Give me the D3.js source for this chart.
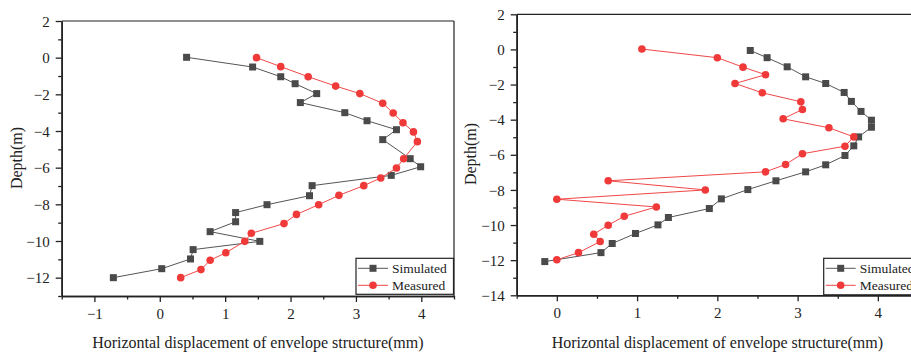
<!DOCTYPE html>
<html>
<head>
<meta charset="utf-8">
<script src="https://cdn.jsdelivr.net/npm/d3@7"></script>
<style>
  html, body { margin: 0; padding: 0; background: #fff; }
  svg { display: block; }
  text { font-family: "Liberation Serif", "Times New Roman", serif; fill: #222; }
</style>
</head>
<body>
<svg id="chart" width="911" height="355"></svg>
<script>
// ---------- Data ----------
const seriesNames = ["Simulated", "Measured"];

// Left chart
const leftSimX = [0.41, 1.42, 1.85, 2.07, 2.40, 2.15, 2.83, 3.17, 3.62, 3.41, 3.83, 3.99, 3.54, 2.33, 2.29, 1.64, 1.16, 1.16, 0.77, 1.53, 0.51, 0.47, 0.03, -0.71];
const leftSimY = [0.02, -0.51, -1.04, -1.42, -1.96, -2.45, -3.0, -3.44, -3.93, -4.47, -5.51, -5.95, -6.42, -6.98, -7.53, -8.02, -8.45, -8.95, -9.49, -10.02, -10.47, -10.98, -11.51, -12.0];
const leftMeaX = [1.48, 1.85, 2.27, 2.69, 3.06, 3.41, 3.57, 3.72, 3.88, 3.94, 3.73, 3.62, 3.38, 3.12, 2.74, 2.43, 2.09, 1.90, 1.40, 1.30, 1.01, 0.77, 0.63, 0.32];
const leftMeaY = [0.0, -0.49, -1.04, -1.55, -1.96, -2.49, -3.02, -3.55, -4.05, -4.58, -5.51, -6.02, -6.56, -6.98, -7.51, -8.02, -8.55, -9.05, -9.58, -10.02, -10.64, -11.05, -11.56, -12.0];

// Right chart
const rightSimX = [2.41, 2.62, 2.87, 3.10, 3.35, 3.58, 3.67, 3.79, 3.92, 3.92, 3.76, 3.70, 3.59, 3.35, 3.10, 2.73, 2.38, 2.05, 1.90, 1.39, 1.26, 0.98, 0.69, 0.55, -0.15];
const rightSimY = [-0.06, -0.47, -0.99, -1.56, -1.94, -2.45, -2.96, -3.53, -4.03, -4.43, -4.98, -5.49, -6.04, -6.57, -6.97, -7.48, -7.98, -8.51, -9.06, -9.57, -9.99, -10.48, -11.05, -11.57, -12.08];
const rightMeaX = [1.06, 2.00, 2.32, 2.60, 2.22, 2.56, 3.04, 3.06, 2.82, 3.39, 3.70, 3.59, 3.06, 2.85, 2.60, 0.64, 1.85, 0.00, 1.24, 0.84, 0.64, 0.46, 0.54, 0.27, 0.00];
const rightMeaY = [0.02, -0.47, -1.01, -1.44, -1.94, -2.47, -2.98, -3.42, -3.95, -4.46, -4.98, -5.51, -5.94, -6.55, -6.97, -7.48, -8.0, -8.53, -8.97, -9.50, -10.01, -10.52, -10.94, -11.57, -11.98];

// Axis ticks
const leftXTicks = [-1, 0, 1, 2, 3, 4];
const leftYTicks = [2, 0, -2, -4, -6, -8, -10, -12];
const rightXTicks = [0, 1, 2, 3, 4];
const rightYTicks = [2, 0, -2, -4, -6, -8, -10, -12, -14];

const xTitle = "Horizontal displacement of envelope structure(mm)";
const yTitle = "Depth(m)";

// ---------- Drawing ----------
const svg = d3.select("#chart");
const simColor = "#4a4a4a", simLine = "#555555";
const meaColor = "#f03a3a", meaLine = "#f04848";

function zip(xs, ys) { return xs.map((x, i) => ({ x, y: ys[i] })); }

function drawPanel(cfg) {
  const g = svg.append("g");
  const x = d3.scaleLinear().domain(cfg.xDomain).range([cfg.left, cfg.right]);
  const y = d3.scaleLinear().domain(cfg.yDomain).range([cfg.bottom, cfg.top]);

  // frame (top and right)
  g.append("line").attr("x1", cfg.left).attr("x2", cfg.right).attr("y1", cfg.top).attr("y2", cfg.top)
    .attr("stroke", "#222").attr("stroke-width", 1.2);
  g.append("line").attr("x1", cfg.right).attr("x2", cfg.right).attr("y1", cfg.top).attr("y2", cfg.bottom)
    .attr("stroke", "#222").attr("stroke-width", 1.2);

  // minor ticks
  const xMinor = d3.range(cfg.xDomain[0], cfg.xDomain[1] + 0.001, 0.5).filter(v => !cfg.xTicks.includes(v));
  const yMinor = d3.range(cfg.yDomain[0], cfg.yDomain[1] + 0.001, 1).filter(v => !cfg.yTicks.includes(v));

  const xAxis = g.append("g").attr("transform", `translate(0,${cfg.bottom})`)
    .call(d3.axisBottom(x).tickValues(cfg.xTicks).tickFormat(d3.format("d")).tickSize(6).tickPadding(6).tickSizeOuter(0));
  const xAxisMinor = g.append("g").attr("transform", `translate(0,${cfg.bottom})`)
    .call(d3.axisBottom(x).tickValues(xMinor).tickFormat("").tickSize(3.5).tickSizeOuter(0));
  const yAxis = g.append("g").attr("transform", `translate(${cfg.left},0)`)
    .call(d3.axisLeft(y).tickValues(cfg.yTicks).tickFormat(d3.format("d")).tickSize(6).tickPadding(6).tickSizeOuter(0));
  const yAxisMinor = g.append("g").attr("transform", `translate(${cfg.left},0)`)
    .call(d3.axisLeft(y).tickValues(yMinor).tickFormat("").tickSize(3.5).tickSizeOuter(0));

  [xAxis, xAxisMinor, yAxis, yAxisMinor].forEach(a => {
    a.select(".domain").attr("stroke", "#222").attr("stroke-width", 1.6);
    a.selectAll(".tick line").attr("stroke", "#222").attr("stroke-width", 1.3);
    a.selectAll(".tick text").attr("font-family", "Liberation Serif, Times New Roman, serif")
      .attr("font-size", 15).attr("fill", "#222");
  });
  yAxis.selectAll(".tick text").attr("dy", "0.34em");

  // titles
  g.append("text").attr("x", (cfg.left + cfg.xTitleRight) / 2).attr("y", cfg.xTitleY)
    .attr("text-anchor", "middle").attr("font-size", 16).text(xTitle);
  g.append("text").attr("transform", `translate(${cfg.yTitleX},${cfg.yTitleY}) rotate(-90)`)
    .attr("text-anchor", "middle").attr("font-size", 16).text(yTitle);

  // series
  const line = d3.line().x(d => x(d.x)).y(d => y(d.y));
  const sim = zip(cfg.simX, cfg.simY);
  const mea = zip(cfg.meaX, cfg.meaY);
  const sq = 7, r = 3.8;

  g.append("path").datum(sim).attr("d", line).attr("fill", "none").attr("stroke", simLine).attr("stroke-width", 1);
  g.selectAll(null).data(sim).enter().append("rect")
    .attr("x", d => x(d.x) - sq / 2).attr("y", d => y(d.y) - sq / 2)
    .attr("width", sq).attr("height", sq).attr("fill", simColor);

  g.append("path").datum(mea).attr("d", line).attr("fill", "none").attr("stroke", meaLine).attr("stroke-width", 1);
  g.selectAll(null).data(mea).enter().append("circle")
    .attr("cx", d => x(d.x)).attr("cy", d => y(d.y)).attr("r", r).attr("fill", meaColor);

  // legend
  const L = cfg.legend;
  g.append("rect").attr("x", L.x).attr("y", L.y).attr("width", L.w).attr("height", L.h)
    .attr("fill", "#fff").attr("stroke", "#222").attr("stroke-width", 1.2);
  const rows = [
    { name: seriesNames[0], color: simColor, lc: simLine, shape: "sq", dy: 10 },
    { name: seriesNames[1], color: meaColor, lc: meaLine, shape: "ci", dy: 27 }
  ];
  rows.forEach(rw => {
    const yy = L.y + rw.dy;
    g.append("line").attr("x1", L.x + 2).attr("x2", L.x + 32).attr("y1", yy).attr("y2", yy)
      .attr("stroke", rw.lc).attr("stroke-width", 1);
    if (rw.shape === "sq") {
      g.append("rect").attr("x", L.x + 17 - sq / 2).attr("y", yy - sq / 2).attr("width", sq).attr("height", sq).attr("fill", rw.color);
    } else {
      g.append("circle").attr("cx", L.x + 17).attr("cy", yy).attr("r", r).attr("fill", rw.color);
    }
    g.append("text").attr("x", L.x + 36).attr("y", yy).attr("dy", "0.35em")
      .attr("font-size", 13.5).text(rw.name);
  });
}

drawPanel({
  left: 61.7, right: 454, top: 21, bottom: 296,
  xDomain: [-1.5, 4.5], yDomain: [-13, 2],
  xTicks: leftXTicks, yTicks: leftYTicks,
  simX: leftSimX, simY: leftSimY, meaX: leftMeaX, meaY: leftMeaY,
  xTitleRight: 454, xTitleY: 348, yTitleX: 22, yTitleY: 158,
  legend: { x: 356, y: 258.3, w: 97.5, h: 36 }
});

drawPanel({
  left: 516.7, right: 918, top: 14.3, bottom: 295.3,
  xDomain: [-0.5, 4.5], yDomain: [-14, 2],
  xTicks: rightXTicks, yTicks: rightYTicks,
  simX: rightSimX, simY: rightSimY, meaX: rightMeaX, meaY: rightMeaY,
  xTitleRight: 918, xTitleY: 348, yTitleX: 476, yTitleY: 154,
  legend: { x: 823.7, y: 258.3, w: 97.5, h: 36.5 }
});
</script>
</body>
</html>
